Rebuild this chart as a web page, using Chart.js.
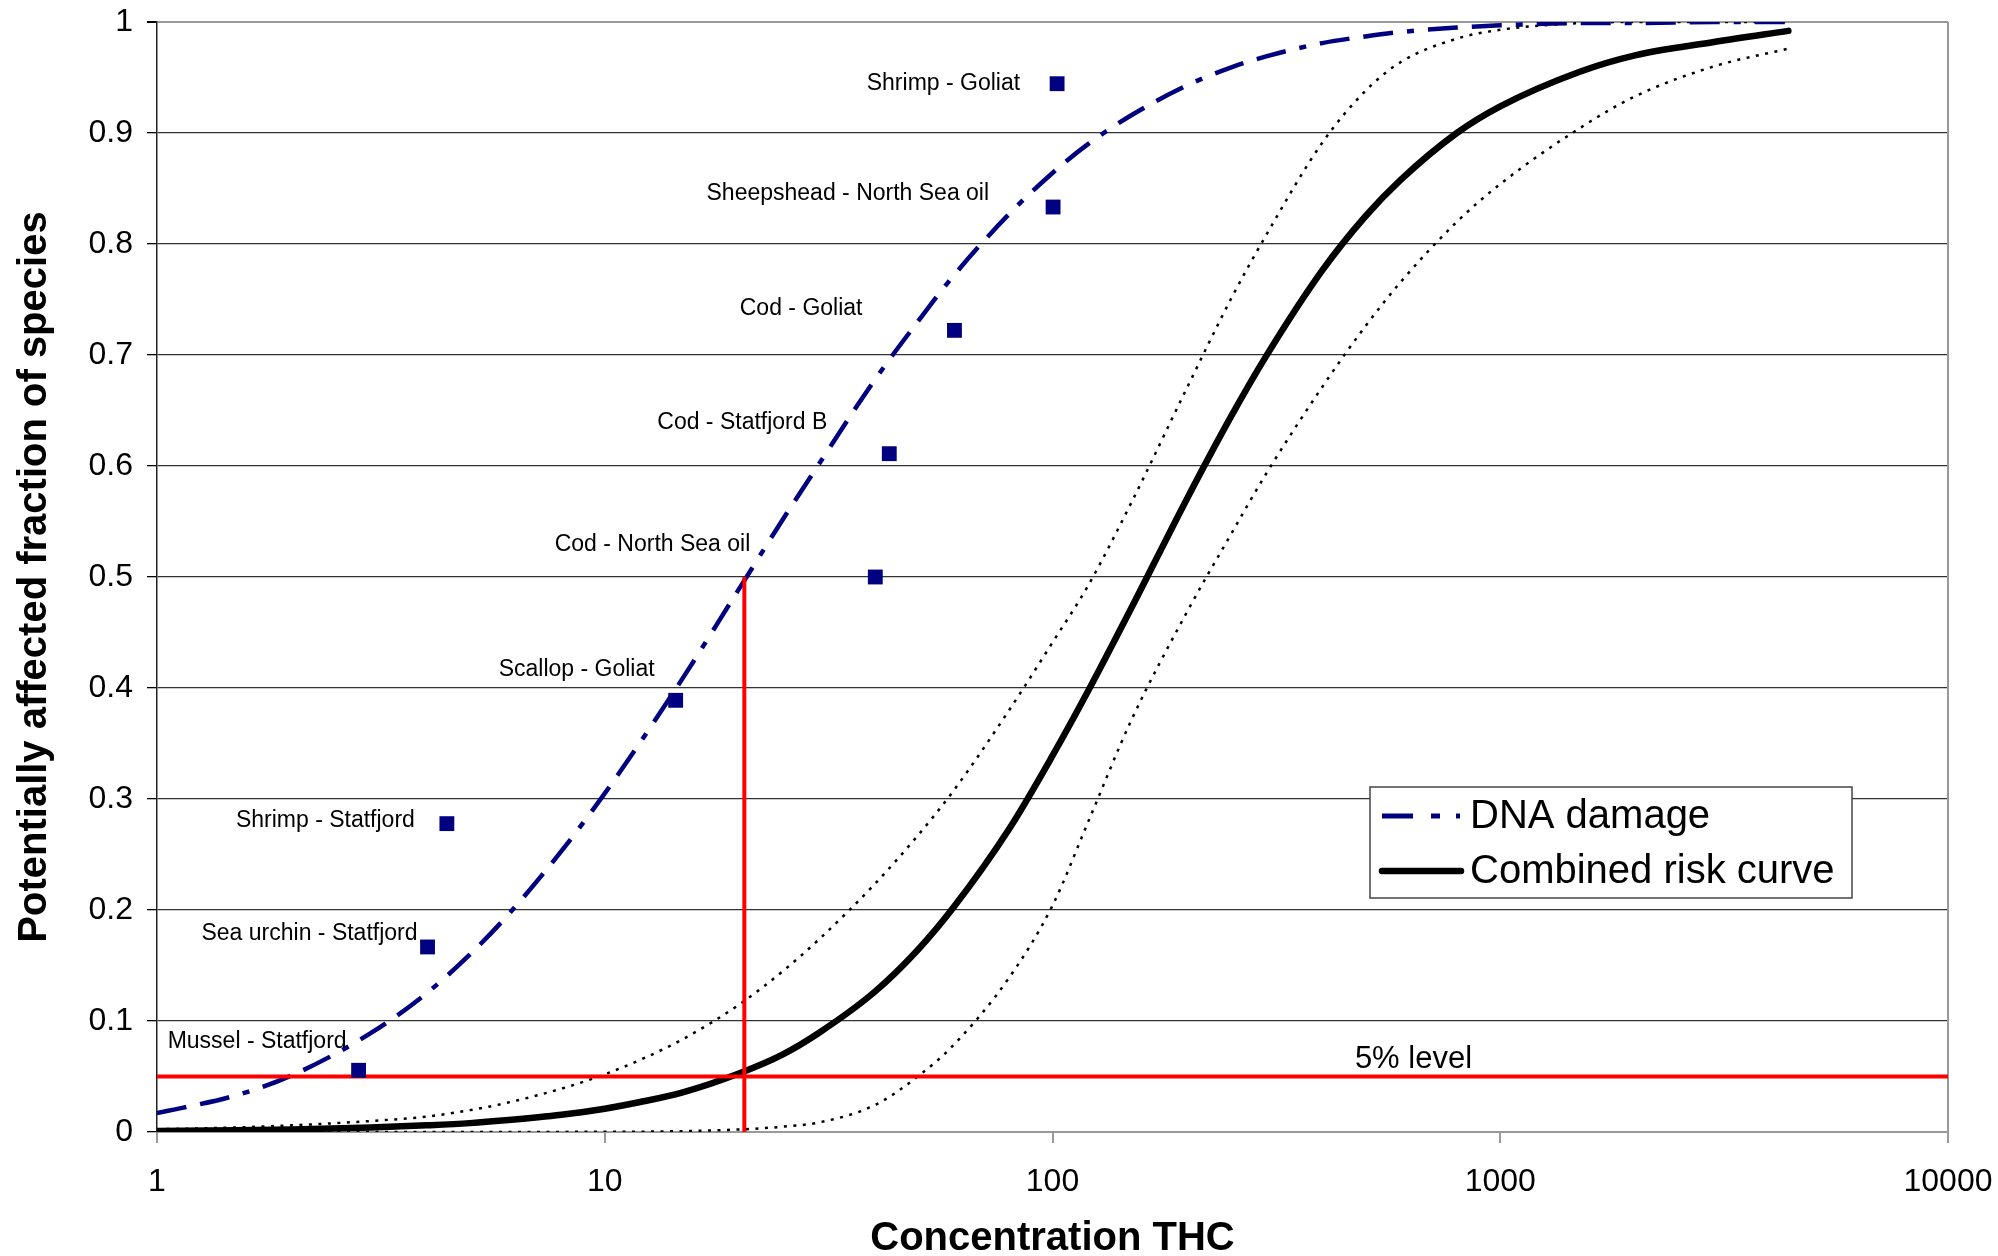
<!DOCTYPE html>
<html lang="en">
<head>
<meta charset="utf-8">
<script src="https://cdn.jsdelivr.net/npm/chart.js@4.4.1/dist/chart.umd.min.js"></script>
<style>
  html, body { margin: 0; padding: 0; background: #fff; }
  #wrap { width: 1998px; height: 1256px; }
</style>
</head>
<body>
<div id="wrap"><canvas id="chart" width="1998" height="1256"></canvas></div>
<script>
const curveX = [1, 1.5, 2, 3, 4, 5, 6, 8, 10, 12, 15, 20, 25, 30, 40, 50, 60, 80, 100, 120, 150, 200, 250, 300, 400, 500, 600, 800, 1000, 1500, 2000, 3000, 4400];

const dnaDamage = [0.017, 0.033, 0.051, 0.089, 0.125, 0.160, 0.193, 0.253, 0.305, 0.351, 0.410, 0.490, 0.552, 0.601, 0.677, 0.730, 0.771, 0.827, 0.864, 0.890, 0.916, 0.943, 0.959, 0.969, 0.981, 0.987, 0.991, 0.995, 0.997, 0.999, 0.999, 1.0, 1.0];
const combinedRisk = [0.001, 0.0016, 0.0023, 0.004, 0.006, 0.008, 0.0105, 0.0155, 0.021, 0.027, 0.036, 0.053, 0.070, 0.089, 0.126, 0.164, 0.202, 0.273, 0.339, 0.397, 0.472, 0.571, 0.644, 0.699, 0.776, 0.825, 0.858, 0.900, 0.924, 0.955, 0.970, 0.982, 0.992];
const upperBand = [0.0024, 0.0041, 0.006, 0.0099, 0.0139, 0.0197, 0.026, 0.039, 0.052, 0.065, 0.084, 0.115, 0.145, 0.173, 0.223, 0.267, 0.307, 0.380, 0.441, 0.492, 0.567, 0.671, 0.750, 0.808, 0.891, 0.938, 0.964, 0.985, 0.993, 0.999, 1.0, 1.0, 1.0];
const lowerBand = [0, 0, 0, 0, 0, 0, 0, 0.0001, 0.0002, 0.0003, 0.0008, 0.0023, 0.0048, 0.0085, 0.024, 0.050, 0.078, 0.139, 0.204, 0.279, 0.371, 0.469, 0.538, 0.593, 0.671, 0.726, 0.766, 0.820, 0.854, 0.904, 0.933, 0.960, 0.976];

// species test results
const species = ['Mussel - Statfjord', 'Sea urchin - Statfjord', 'Shrimp - Statfjord', 'Scallop - Goliat', 'Cod - North Sea oil', 'Cod - Statfjord B', 'Cod - Goliat', 'Sheepshead - North Sea oil', 'Shrimp - Goliat'];
const speciesX = [2.82, 4.02, 4.44, 14.4, 40.2, 43.2, 60.4, 100.3, 102.4];
const speciesY = [0.0556, 0.1667, 0.2778, 0.3889, 0.5, 0.6111, 0.7222, 0.8333, 0.9444];

// red reference lines
const levelX = [1, 10000];
const levelY = [0.05, 0.05];
const cutX = [20.5, 20.5];
const cutY = [0, 0.5];

const xTicks = [1, 10, 100, 1000, 10000];

// where each species label sits relative to its marker (px)
const labelShift = [[-12, -29], [-10, -13], [-32, -3], [-21, -31], [-125, -32], [-62, -31], [-92, -22], [-64, -13], [-37, 0]];

const FONT = "'Liberation Sans', Arial, sans-serif";
const pts = (xs, ys) => xs.map((x, i) => ({ x: x, y: ys[i] }));

const extras = {
    id: 'extras',
    beforeDatasetsDraw(chart) {
        const { ctx, chartArea } = chart;
        ctx.save();
        ctx.strokeStyle = '#999';
        ctx.lineWidth = 2;
        ctx.beginPath();
        ctx.moveTo(chartArea.right, chartArea.top);
        ctx.lineTo(chartArea.right, chartArea.bottom);
        ctx.stroke();
        ctx.restore();
    },
    afterDatasetsDraw(chart) {
        const { ctx } = chart;
        const xs = chart.scales.x, ys = chart.scales.y;
        ctx.save();

        // species labels
        const meta = chart.getDatasetMeta(0);
        ctx.font = '23px ' + FONT;
        ctx.fillStyle = '#000';
        ctx.textAlign = 'right';
        ctx.textBaseline = 'middle';
        meta.data.forEach((p, i) => {
            ctx.fillText(species[i], p.x + labelShift[i][0], p.y + labelShift[i][1]);
        });

        // 5% level text
        ctx.font = '31px ' + FONT;
        ctx.textAlign = 'center';
        ctx.textBaseline = 'alphabetic';
        ctx.fillText('5% level', xs.getPixelForValue(640), ys.getPixelForValue(levelY[0]) - 9);

        // legend
        const bx = 1370, by = 787, bw = 482, bh = 111;
        ctx.fillStyle = '#fff';
        ctx.fillRect(bx, by, bw, bh);
        ctx.strokeStyle = '#444';
        ctx.lineWidth = 1.5;
        ctx.strokeRect(bx, by, bw, bh);

        const y1 = by + 29, y2 = by + 84;
        ctx.strokeStyle = '#000080';
        ctx.lineWidth = 5;
        ctx.beginPath();
        ctx.moveTo(bx + 12, y1); ctx.lineTo(bx + 43, y1);
        ctx.moveTo(bx + 61, y1); ctx.lineTo(bx + 70, y1);
        ctx.moveTo(bx + 86, y1); ctx.lineTo(bx + 90, y1);
        ctx.stroke();

        ctx.strokeStyle = '#000';
        ctx.lineWidth = 6.5;
        ctx.lineCap = 'round';
        ctx.beginPath();
        ctx.moveTo(bx + 12, y2); ctx.lineTo(bx + 91, y2);
        ctx.stroke();

        ctx.fillStyle = '#000';
        ctx.font = '40px ' + FONT;
        ctx.textAlign = 'left';
        ctx.textBaseline = 'middle';
        ctx.fillText(chart.data.datasets[3].label, bx + 100, y1 + 1);
        ctx.fillText(chart.data.datasets[4].label, bx + 100, y2 + 1);
        ctx.restore();
    }
};

const curve = (label, ys, color, width, dash) => ({
    label: label,
    data: pts(curveX, ys),
    showLine: true,
    borderColor: color,
    borderWidth: width,
    borderDash: dash,
    pointRadius: 0,
    cubicInterpolationMode: 'monotone',
    borderCapStyle: 'butt'
});

new Chart(document.getElementById('chart'), {
    type: 'scatter',
    data: {
        datasets: [
            { label: 'Species', data: pts(speciesX, speciesY), pointStyle: 'rect', pointRadius: 10.5,
              backgroundColor: '#000080', borderWidth: 0, showLine: false },
            { label: '5% level', data: pts(levelX, levelY), showLine: true, borderColor: '#ff0000', borderWidth: 4, pointRadius: 0 },
            { label: 'cut', data: pts(cutX, cutY), showLine: true, borderColor: '#ff0000', borderWidth: 4, pointRadius: 0 },
            curve('DNA damage', dnaDamage, '#000080', 4.5, [30, 14, 30, 14, 7, 14]),
            Object.assign(curve('Combined risk curve', combinedRisk, '#000', 6.5, []), { borderCapStyle: 'round' }),
            curve('upper', upperBand, '#000', 2.5, [3, 6.5]),
            curve('lower', lowerBand, '#000', 2.5, [3, 6.5])
        ]
    },
    options: {
        responsive: false,
        animation: false,
        events: [],
        layout: { padding: { top: 22, right: 50, left: 0, bottom: 0 } },
        plugins: { legend: { display: false }, tooltip: { enabled: false } },
        scales: {
            x: {
                type: 'logarithmic',
                min: 1,
                max: 10000,
                afterBuildTicks: s => { s.ticks = xTicks.map(v => ({ value: v })); },
                afterFit: s => { s.height = 124; s.paddingLeft = 0; s.paddingRight = 0; },
                grid: { drawOnChartArea: false, drawTicks: true, tickLength: 11, color: '#999', lineWidth: 2 },
                border: { color: '#999', width: 2 },
                ticks: { autoSkip: false, maxRotation: 0, padding: 20, color: '#000',
                         font: { family: FONT, size: 32, lineHeight: 1.2 },
                         callback: v => String(v) },
                title: { display: true, text: 'Concentration THC', color: '#000',
                         font: { family: FONT, size: 40, weight: 'bold', lineHeight: 0.8 },
                         padding: { top: 0, bottom: 1 } }
            },
            y: {
                min: 0,
                max: 1,
                afterFit: s => { s.width = 157; s.paddingTop = 0; s.paddingBottom = 0; },
                grid: {
                    color: c => (c.tick.value === 1 || c.tick.value === 0) ? '#999' : '#333',
                    lineWidth: c => c.tick.value === 1 ? 2 : 1.3,
                    tickColor: '#000',
                    tickLength: 10
                },
                border: { color: '#222', width: 1.5 },
                ticks: { stepSize: 0.1, padding: 14, color: '#000',
                         font: { family: FONT, size: 32 },
                         callback: v => String(Math.round(v * 10) / 10) },
                title: { display: true, text: 'Potentially affected fraction of species', color: '#000',
                         font: { family: FONT, size: 40, weight: 'bold', lineHeight: 1 },
                         padding: { top: 15, bottom: 0 } }
            }
        }
    },
    plugins: [extras]
});
</script>
</body>
</html>
